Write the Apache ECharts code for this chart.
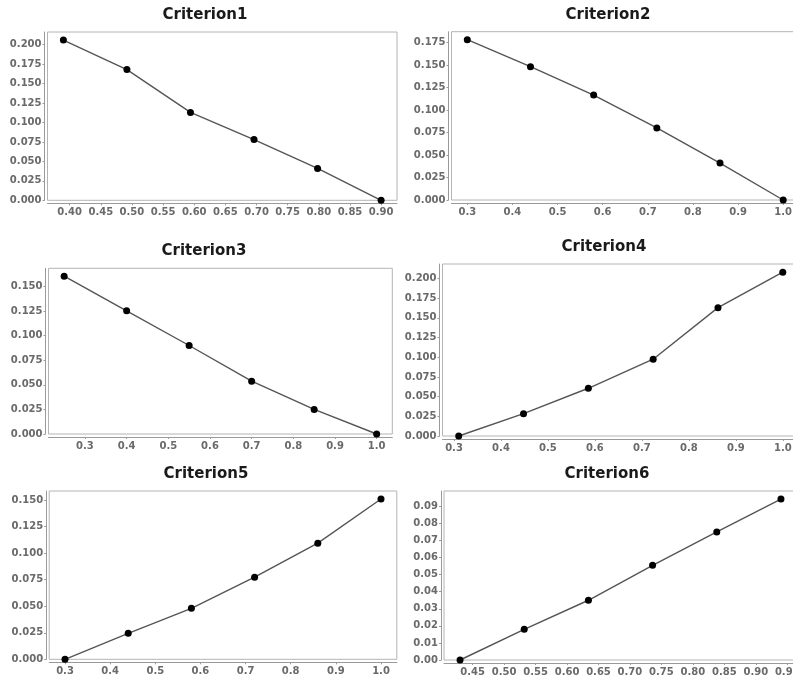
<!DOCTYPE html>
<html>
<head>
<meta charset="utf-8">
<script src="https://cdn.jsdelivr.net/npm/echarts@6/dist/echarts.min.js"></script>
<style>
html,body{margin:0;padding:0;background:#fff;}
#chart{width:793px;height:678px;}
</style>
</head>
<body>
<div id="chart"></div>
<script>
// ---- data ----
const titles = ['Criterion1', 'Criterion2', 'Criterion3', 'Criterion4', 'Criterion5', 'Criterion6'];

const c1x = [0.39, 0.492, 0.594, 0.696, 0.798, 0.90];
const c1y = [0.206, 0.168, 0.113, 0.078, 0.041, 0.0];
const c2x = [0.30, 0.44, 0.58, 0.72, 0.86, 1.00];
const c2y = [0.178, 0.148, 0.1165, 0.080, 0.041, 0.0];
const c3x = [0.25, 0.40, 0.55, 0.70, 0.85, 1.00];
const c3y = [0.1605, 0.1253, 0.090, 0.0537, 0.025, 0.0];
const c4x = [0.31, 0.448, 0.586, 0.724, 0.862, 1.00];
const c4y = [0.0, 0.0284, 0.0606, 0.0975, 0.163, 0.208];
const c5x = [0.30, 0.44, 0.58, 0.72, 0.86, 1.00];
const c5y = [0.0, 0.0245, 0.048, 0.0774, 0.1094, 0.151];
const c6x = [0.43, 0.532, 0.634, 0.736, 0.838, 0.94];
const c6y = [0.0, 0.018, 0.035, 0.0555, 0.075, 0.0943];

// tick values
const x1Ticks = [0.40, 0.45, 0.50, 0.55, 0.60, 0.65, 0.70, 0.75, 0.80, 0.85, 0.90];
const x2Ticks = [0.3, 0.4, 0.5, 0.6, 0.7, 0.8, 0.9, 1.0];
const x3Ticks = [0.3, 0.4, 0.5, 0.6, 0.7, 0.8, 0.9, 1.0];
const x4Ticks = [0.3, 0.4, 0.5, 0.6, 0.7, 0.8, 0.9, 1.0];
const x5Ticks = [0.3, 0.4, 0.5, 0.6, 0.7, 0.8, 0.9, 1.0];
const x6Ticks = [0.45, 0.50, 0.55, 0.60, 0.65, 0.70, 0.75, 0.80, 0.85, 0.90, 0.95];
const y1Ticks = [0, 0.025, 0.05, 0.075, 0.1, 0.125, 0.15, 0.175, 0.2];
const y2Ticks = [0, 0.025, 0.05, 0.075, 0.1, 0.125, 0.15, 0.175];
const y3Ticks = [0, 0.025, 0.05, 0.075, 0.1, 0.125, 0.15];
const y4Ticks = [0, 0.025, 0.05, 0.075, 0.1, 0.125, 0.15, 0.175, 0.2];
const y5Ticks = [0, 0.025, 0.05, 0.075, 0.1, 0.125, 0.15];
const y6Ticks = [0, 0.01, 0.02, 0.03, 0.04, 0.05, 0.06, 0.07, 0.08, 0.09];

const xDigits = [2, 1, 1, 1, 1, 2];
const yDigits = [3, 3, 3, 3, 3, 2];

// ---- layout (plot boxes) ----
const boxes = [
  {left: 47.5, top: 32, width: 349.5, height: 168.3},
  {left: 451.5, top: 31.7, width: 347.5, height: 168.3},
  {left: 48.5, top: 268.3, width: 343.8, height: 165.7},
  {left: 442.5, top: 264, width: 356.5, height: 172},
  {left: 49.2, top: 491, width: 347.6, height: 168.3},
  {left: 444, top: 491, width: 353, height: 169}
];
const titlePos = [[205, 15], [608, 15], [204, 251], [604, 247.5], [206, 474], [607, 474]];

const xs = [c1x, c2x, c3x, c4x, c5x, c6x];
const ys = [c1y, c2y, c3y, c4y, c5y, c6y];
const xT = [x1Ticks, x2Ticks, x3Ticks, x4Ticks, x5Ticks, x6Ticks];
const yT = [y1Ticks, y2Ticks, y3Ticks, y4Ticks, y5Ticks, y6Ticks];

const labelFont = {fontFamily: 'DejaVu Sans', fontSize: 10, fontWeight: 'bold', color: '#6a6a6a'};

const option = {
  animation: false,
  backgroundColor: '#fff',
  title: titles.map((t, i) => ({
    text: t,
    left: titlePos[i][0],
    top: titlePos[i][1],
    textAlign: 'center',
    textVerticalAlign: 'middle',
    padding: 0,
    textStyle: {fontFamily: 'DejaVu Sans', fontSize: 15, fontWeight: 'bold', color: '#1a1a1a'}
  })),
  grid: boxes.map(b => ({
    left: b.left, top: b.top, width: b.width, height: b.height,
    containLabel: false,
    outerBoundsMode: 'none',
    show: true,
    backgroundColor: '#fff',
    borderColor: '#b4b4b4',
    borderWidth: 1
  })),
  xAxis: xs.map((x, i) => ({
    type: 'value',
    gridIndex: i,
    min: v => v.min - 0.05 * (v.max - v.min),
    max: v => v.max + 0.05 * (v.max - v.min),
    offset: 3,
    splitLine: {show: false},
    axisLine: {show: true, onZero: false, lineStyle: {color: '#9a9a9a', width: 1}},
    axisTick: {show: true, length: 2, lineStyle: {color: '#9a9a9a'}, customValues: xT[i]},
    axisLabel: Object.assign({
      margin: 4,
      customValues: xT[i],
      formatter: v => v.toFixed(xDigits[i])
    }, labelFont)
  })),
  yAxis: ys.map((y, i) => ({
    type: 'value',
    gridIndex: i,
    min: 0,
    max: v => v.max * 1.05,
    offset: 3,
    splitLine: {show: false},
    axisLine: {show: true, onZero: false, lineStyle: {color: '#9a9a9a', width: 1}},
    axisTick: {show: true, length: 2, lineStyle: {color: '#9a9a9a'}, customValues: yT[i]},
    axisLabel: Object.assign({
      margin: 3,
      customValues: yT[i],
      formatter: v => v.toFixed(yDigits[i])
    }, labelFont)
  })),
  series: xs.map((x, i) => ({
    type: 'line',
    xAxisIndex: i,
    yAxisIndex: i,
    data: x.map((xv, k) => [xv, ys[i][k]]),
    symbol: 'circle',
    symbolSize: 7,
    showSymbol: true,
    clip: false,
    itemStyle: {color: '#000'},
    lineStyle: {color: '#555', width: 1.4}
  }))
};

const chart = echarts.init(document.getElementById('chart'), null, {renderer: 'canvas'});
chart.setOption(option);
</script>
</body>
</html>
